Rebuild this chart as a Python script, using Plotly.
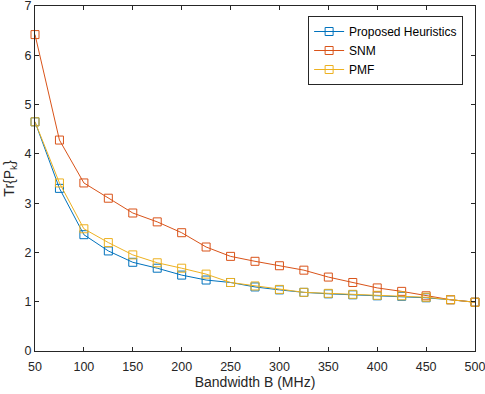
import plotly.graph_objects as go

# Bandwidth values (MHz)
bandwidth = [50, 75, 100, 125, 150, 175, 200, 225, 250, 275,
             300, 325, 350, 375, 400, 425, 450, 475, 500]

heuristics = [4.65, 3.30, 2.36, 2.03, 1.80, 1.68, 1.54, 1.44, 1.39, 1.30,
              1.24, 1.19, 1.16, 1.14, 1.12, 1.11, 1.08, 1.04, 0.99]
snm = [6.42, 4.28, 3.41, 3.10, 2.80, 2.62, 2.40, 2.11, 1.92, 1.82,
       1.73, 1.64, 1.50, 1.39, 1.28, 1.21, 1.12, 1.04, 0.99]
pmf = [4.65, 3.41, 2.48, 2.20, 1.95, 1.79, 1.68, 1.56, 1.39, 1.32,
       1.25, 1.19, 1.17, 1.15, 1.13, 1.12, 1.09, 1.04, 0.99]

fig = go.Figure()

series = [
    ('Proposed Heuristics', heuristics, '#0072BD'),
    ('SNM', snm, '#D95319'),
    ('PMF', pmf, '#EDB120'),
]
for name, vals, col in series:
    fig.add_trace(go.Scatter(
        x=bandwidth, y=vals, mode='lines+markers', name=name,
        line=dict(color=col, width=1),
        marker=dict(symbol='square-open', size=8, color=col, line=dict(width=1)),
        cliponaxis=False
    ))

axis_common = dict(
    showgrid=False, zeroline=False, showline=True, linecolor='#262626',
    linewidth=1, mirror='ticks', ticks='inside', ticklen=4,
    tickcolor='#262626', tickfont=dict(size=12.5, color='#262626'),
    ticklabeloverflow='allow', automargin=False,
)

fig.update_layout(
    width=485, height=394,
    margin=dict(l=35, r=10, t=6, b=43),
    plot_bgcolor='white', paper_bgcolor='white',
    font=dict(family='Liberation Sans, Arial, sans-serif', size=12, color='#262626'),
    xaxis=dict(range=[50, 500], tickvals=list(range(50, 501, 50)),
               ticklabelstandoff=4,
               title=dict(text='Bandwidth B (MHz)', font=dict(size=14), standoff=4),
               **axis_common),
    yaxis=dict(range=[0, 7], tickvals=list(range(0, 8)),
               title=dict(text='Tr{P<sub>k</sub>}', font=dict(size=14), standoff=6),
               **axis_common),
    legend=dict(x=0.973, y=0.971, xanchor='right', yanchor='top',
                bordercolor='#262626', borderwidth=1, bgcolor='white',
                font=dict(size=12, color='#000000'), tracegroupgap=0),
    showlegend=True,
)

fig.write_html('out.html', config={'displayModeBar': False},
               post_script="document.body.style.margin='0px';")
